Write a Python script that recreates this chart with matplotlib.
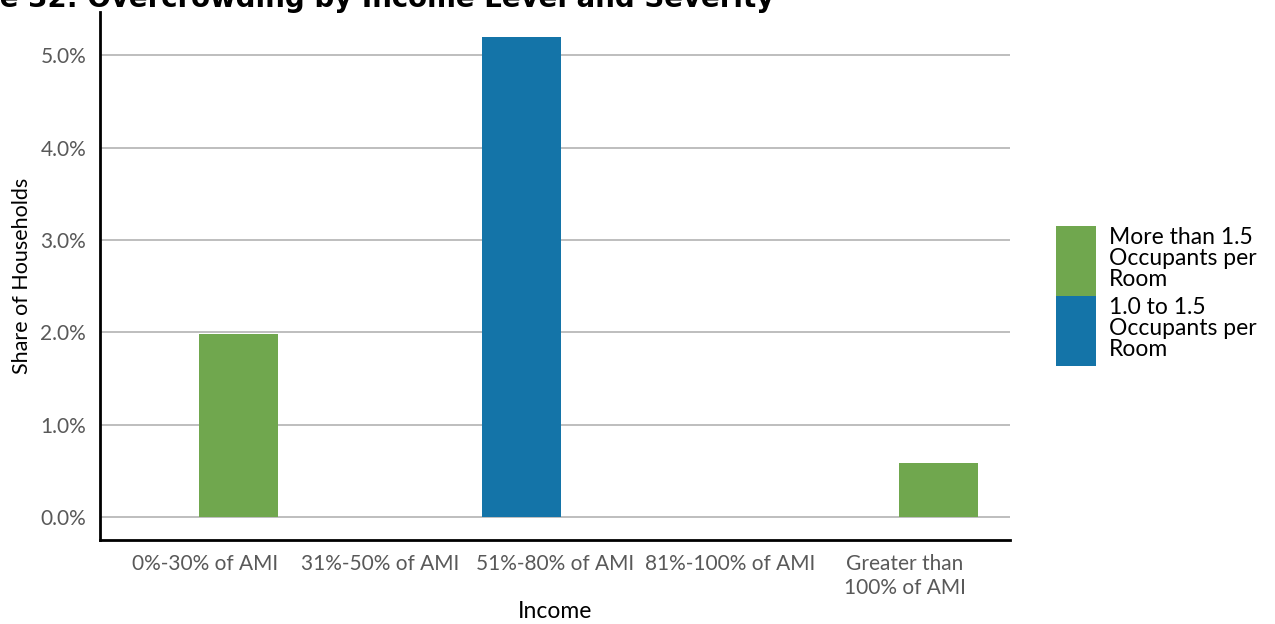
import matplotlib.pyplot as plt
import numpy as np
from matplotlib.patches import Patch
from matplotlib.ticker import FuncFormatter

plt.rcParams['font.family'] = ['Lato', 'DejaVu Sans']

categories = ["0%-30% of AMI", "31%-50% of AMI", "51%-80% of AMI",
              "81%-100% of AMI", "Greater than\n100% of AMI"]
more_than_1_5 = [1.98, 0.0, 0.0, 0.0, 0.58]
from_1_0_to_1_5 = [0.0, 0.0, 5.2, 0.0, 0.0]
series_labels = ["More than 1.5\nOccupants per\nRoom", "1.0 to 1.5\nOccupants per\nRoom"]
yticks = [0, 1, 2, 3, 4, 5]
title = "Figure 32: Overcrowding by Income Level and Severity"

green = "#70a74e"
blue = "#1474a8"

W, H = 1275, 624
fig = plt.figure(figsize=(W / 100, H / 100), dpi=100)
ax = fig.add_axes([100 / W, 1 - 540 / H, 910 / W, 528 / H])

x = np.arange(len(categories))
w = 0.45
off = 0.19
ax.bar(x - off, from_1_0_to_1_5, w, color=blue, zorder=3)
ax.bar(x + off, more_than_1_5, w, color=green, zorder=3)

ax.set_xlim(-0.6, 4.6)
ax.set_ylim(-0.25, 5.47)
ax.set_yticks(yticks)
ax.yaxis.set_major_formatter(FuncFormatter(lambda v, p: f"{v:.1f}%"))
ax.set_xticks(x)
ax.set_xticklabels(categories, linespacing=1.25)
ax.grid(axis='y', color='#b3b3b3', linewidth=1.2, zorder=0)
ax.tick_params(axis='both', length=0, labelsize=15, labelcolor='#595959')
ax.tick_params(axis='y', pad=10)
ax.tick_params(axis='x', pad=10)

for s in ['top', 'right']:
    ax.spines[s].set_visible(False)
for s in ['left', 'bottom']:
    ax.spines[s].set_color('black')
    ax.spines[s].set_linewidth(2)

ax.set_ylabel("Share of Households", fontsize=15.5, color='black', labelpad=6)
ax.set_xlabel("Income", fontsize=16.5, color='black', labelpad=2)

handles = [Patch(facecolor=green), Patch(facecolor=blue)]
leg = fig.legend(handles, series_labels, loc='center left',
                 bbox_to_anchor=(1040 / W, 1 - 296 / H), frameon=False,
                 fontsize=16.5, handlelength=1.75, handleheight=4.33,
                 labelspacing=0.0, handletextpad=0.55, borderpad=0.2)
for t in leg.get_texts():
    t.set_linespacing(1.02)

# Title runs off the left edge: the "Figur" prefix sits outside the canvas
renderer = fig.canvas.get_renderer()
probe = fig.text(0, 0, title, fontsize=20, fontweight='bold', family=['DejaVu Sans'])
full_w = probe.get_window_extent(renderer).width
probe.set_text("Figur")
pre_w = probe.get_window_extent(renderer).width
probe.remove()
size = 20 * 774 / (full_w - pre_w)
fig.text(774 / W, 1 - 7 / H, title,
         ha='right', va='baseline', fontsize=size, fontweight='bold',
         family=['DejaVu Sans'])

fig.savefig("out.png", dpi=100)
